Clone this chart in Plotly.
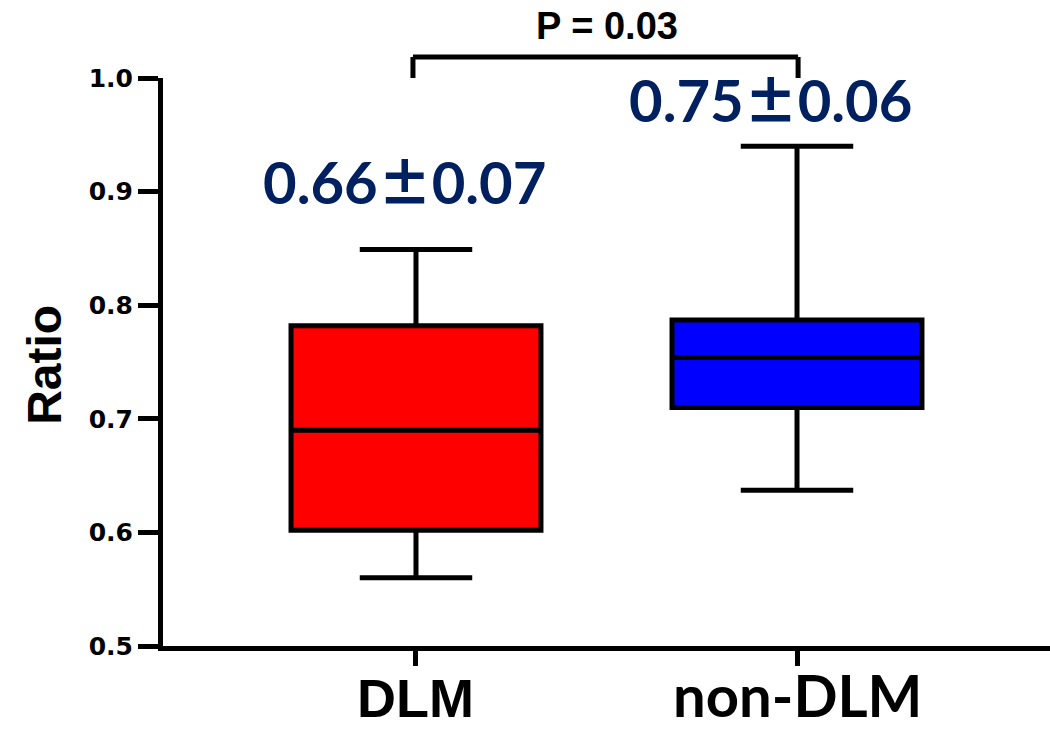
import plotly.graph_objects as go

categories = ["DLM", "non-DLM"]
q1s = [0.602, 0.710]
medians = [0.690, 0.754]
q3s = [0.782, 0.787]
lows = [0.560, 0.637]
highs = [0.849, 0.940]
fills = ["#FF0000", "#0000FF"]
stat_means = ["0.66", "0.75"]
stat_sds = ["0.07", "0.06"]
stat_pos = [(-0.03, 0.910), (0.93, 0.982)]
p_text = "P = 0.03"
y_ticks = [0.5, 0.6, 0.7, 0.8, 0.9, 1.0]
y_ticktext = ["0.5", "0.6", "0.7", "0.8", "0.9", "1.0"]

fig = go.Figure()
for i, c in enumerate(categories):
    fig.add_trace(go.Box(
        x=[i], q1=[q1s[i]], median=[medians[i]], q3=[q3s[i]],
        lowerfence=[lows[i]], upperfence=[highs[i]],
        fillcolor=fills[i], line=dict(color="black", width=5),
        width=0.656, whiskerwidth=0.45, boxpoints=False,
        name=c, showlegend=False, hoverinfo="skip"))

annotations = []
# x category labels
label_y = [-0.0907, -0.1496]
label_anchor = ["middle", "bottom"]
label_size = [54, 58]
label_font = ["Liberation Sans", "Lato"]
for i, c in enumerate(categories):
    annotations.append(dict(x=i, y=label_y[i], xref="x", yref="paper", text=c,
                            showarrow=False, xanchor="center", yanchor=label_anchor[i],
                            font=dict(family=label_font[i], size=label_size[i], color="black", weight="bold")))
for m, s, (xx, yy) in zip(stat_means, stat_sds, stat_pos):
    txt = (m + '<b><span style="font-family:\'Noto Sans CJK SC\';font-size:54px;font-weight:900">±</span></b>' + s)
    annotations.append(dict(x=xx, y=yy, xref="x", yref="y", text=txt, showarrow=False,
                            xanchor="center", yanchor="middle",
                            font=dict(family="Lato", size=58, color="#002060", weight="bold")))
annotations.append(dict(x=0.5006, y=1.0915, xref="paper", yref="paper", text=p_text,
                        showarrow=False, xanchor="center", yanchor="middle",
                        font=dict(family="Liberation Sans", size=38, color="black", weight="bold")))
annotations.append(dict(x=-0.133, y=0.495, xref="paper", yref="paper", text="Ratio",
                        showarrow=False, textangle=-90, xanchor="center", yanchor="middle",
                        font=dict(family="Liberation Sans", size=48, color="black", weight="bold")))

# significance bracket
bx0, bx1 = 0.2818, 0.716
by_top, by_bot = 1.037, 1.0
shapes = [
    dict(type="line", xref="paper", yref="paper", x0=bx0, x1=bx1, y0=by_top, y1=by_top,
         line=dict(color="black", width=5)),
    dict(type="line", xref="paper", yref="paper", x0=bx0, x1=bx0, y0=by_top, y1=by_bot,
         line=dict(color="black", width=5)),
    dict(type="line", xref="paper", yref="paper", x0=bx1, x1=bx1, y0=by_top, y1=by_bot,
         line=dict(color="black", width=5)),
]

fig.update_layout(
    width=1050, height=731,
    margin=dict(l=163, r=0, t=78, b=85),
    plot_bgcolor="white", paper_bgcolor="white",
    annotations=annotations, shapes=shapes,
    xaxis=dict(range=[-0.664, 1.664], tickvals=[0, 1], showticklabels=False,
               ticks="outside", ticklen=15, tickwidth=5, tickcolor="black",
               showline=True, linewidth=5, linecolor="black",
               showgrid=False, zeroline=False),
    yaxis=dict(range=[0.5, 1.0], tickvals=y_ticks, ticktext=y_ticktext,
               ticks="outside", ticklen=20, tickwidth=5, tickcolor="black",
               showline=True, linewidth=5, linecolor="black",
               showgrid=False, zeroline=False,
               tickfont=dict(family="DejaVu Sans", size=25, color="black", weight="bold")),
)

fig.write_html("out.html", config={"displayModeBar": False},
               post_script="document.body.style.margin='0';")
